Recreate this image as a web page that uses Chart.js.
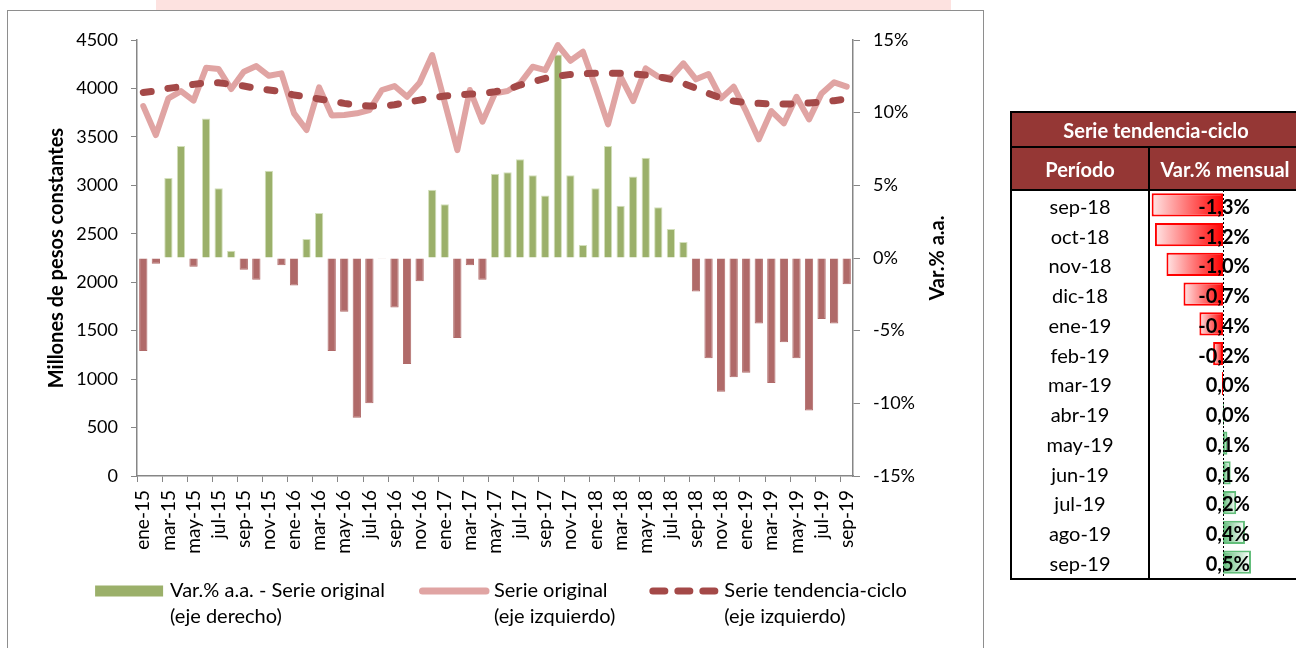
<!DOCTYPE html>
<html lang="es">
<head>
<meta charset="utf-8">
<title>Serie original y tendencia-ciclo</title>
<script src="https://cdn.jsdelivr.net/npm/chart.js@4.4.1/dist/chart.umd.min.js"></script>
<style>
  html, body { margin: 0; padding: 0; background: #fff; }
  body { width: 1296px; height: 648px; overflow: hidden; position: relative; font-family: Lato, "Open Sans", sans-serif; }
  #franja { position: absolute; left: 156px; top: 0; width: 795px; height: 10px; background: #fde2e0; }
  #marco { position: absolute; left: 7px; top: 10px; width: 975px; height: 700px; border: 1.5px solid #8e8e8e; }
  #graf { position: absolute; left: 9px; top: 12px; width: 972px; height: 690px; }
  #barrasBox { position: absolute; left: 1150px; top: 190px; width: 146px; height: 387px; z-index: 0; }
  #tabla { position: absolute; left: 1010px; top: 111px; z-index: 1; border-collapse: collapse; table-layout: fixed; width: 290px; font-size: 20px; color: #000; }
  #tabla th, #tabla td { padding: 0; }
  #tabla th { background: #953735; color: #fff; font-weight: bold; border: 2px solid #000; text-align: center; white-space: nowrap; }
  #tabla tr.tit th { height: 33px; }
  #tabla tr.cab th { height: 41px; }
  #tabla td { height: 29.75px; border-left: 2px solid #000; border-right: 2px solid #000; background: transparent; white-space: nowrap; }
  #tabla td.per { text-align: center; }
  #tabla td.val { text-align: right; padding-right: 50px; font-weight: bold; }
  #tabla tr:last-child td { border-bottom: 2px solid #000; }
</style>
</head>
<body>
<div id="franja"></div>
<div id="marco"></div>
<div id="graf"><canvas id="myChart"></canvas></div>
<div id="barrasBox"><canvas id="barras"></canvas></div>
<table id="tabla">
  <colgroup><col style="width:138px"><col style="width:152px"></colgroup>
  <tr class="tit"><th colspan="2">Serie tendencia-ciclo</th></tr>
  <tr class="cab"><th>Período</th><th>Var.% mensual</th></tr>
</table>
<script>
// Meses (categorias del eje x)
var meses = [
  "ene-15", "feb-15", "mar-15", "abr-15", "may-15", "jun-15", "jul-15", "ago-15", "sep-15", "oct-15", "nov-15", "dic-15",
  "ene-16", "feb-16", "mar-16", "abr-16", "may-16", "jun-16", "jul-16", "ago-16", "sep-16", "oct-16", "nov-16", "dic-16",
  "ene-17", "feb-17", "mar-17", "abr-17", "may-17", "jun-17", "jul-17", "ago-17", "sep-17", "oct-17", "nov-17", "dic-17",
  "ene-18", "feb-18", "mar-18", "abr-18", "may-18", "jun-18", "jul-18", "ago-18", "sep-18", "oct-18", "nov-18", "dic-18",
  "ene-19", "feb-19", "mar-19", "abr-19", "may-19", "jun-19", "jul-19", "ago-19", "sep-19"
];

// Var.% a.a. de la serie original (eje derecho)
var varAA = [
  -6.4, -0.4, 5.5, 7.7, -0.6, 9.6, 4.8, 0.5, -0.8, -1.5, 6.0, -0.5,
  -1.9, 1.3, 3.1, -6.4, -3.7, -11.0, -10.0, -0.05, -3.4, -7.3, -1.6, 4.7,
  3.7, -5.5, -0.5, -1.5, 5.8, 5.9, 6.8, 5.7, 4.3, 14.0, 5.7, 0.9,
  4.8, 7.7, 3.6, 5.6, 6.9, 3.5, 2.0, 1.1, -2.3, -6.9, -9.2, -8.2,
  -7.9, -4.5, -8.6, -5.8, -6.9, -10.5, -4.2, -4.5, -1.8
];

// Serie original, millones de pesos constantes (eje izquierdo)
var serieOriginal = [
  3818, 3519, 3898, 3973, 3874, 4214, 4200, 3994, 4173, 4231, 4131, 4156,
  3743, 3571, 4011, 3722, 3726, 3743, 3777, 3984, 4025, 3914, 4059, 4345,
  3856, 3364, 3984, 3657, 3949, 3973, 4053, 4224, 4190, 4448, 4286, 4379,
  4018, 3630, 4121, 3870, 4207, 4121, 4114, 4259, 4094, 4149, 3898, 4018,
  3760, 3475, 3767, 3640, 3914, 3681, 3949, 4063, 4018
];

// Serie tendencia-ciclo (eje izquierdo)
var serieTendencia = [
  3959, 3973, 4001, 4018, 4042, 4059, 4059, 4042, 4025, 4001, 3984, 3966,
  3932, 3914, 3891, 3870, 3846, 3829, 3818, 3818, 3832, 3856, 3880, 3904,
  3922, 3932, 3942, 3949, 3966, 3990, 4035, 4069, 4104, 4128, 4145, 4152,
  4156, 4156, 4156, 4149, 4138, 4121, 4094, 4053, 4001, 3949, 3898, 3870,
  3853, 3846, 3839, 3839, 3842, 3850, 3860, 3874, 3891
];

// Textos de la leyenda (dos lineas cada uno)
var leyendaTextos = [
  ["Var.% a.a. - Serie original", "(eje derecho)"],
  ["Serie original", "(eje izquierdo)"],
  ["Serie tendencia-ciclo", "(eje izquierdo)"]
];

// Tabla: variacion mensual de la tendencia-ciclo
var tablaPeriodos = ["sep-18", "oct-18", "nov-18", "dic-18", "ene-19", "feb-19", "mar-19",
  "abr-19", "may-19", "jun-19", "jul-19", "ago-19", "sep-19"];
var tablaVarMensual = [-1.30, -1.24, -1.03, -0.72, -0.43, -0.18, -0.02, 0.02, 0.08, 0.14, 0.24, 0.40, 0.51];

var fuente = "Lato";
var gris = "#868686";
var verde = "#9bb06a";
var rojo = "#b06a69";
var rosa = "#e0a4a3";
var granate = "#a44948";

function formatoPct(v) {
  if (Math.abs(v) < 0.05) return "0,0%";
  return v.toFixed(1).replace(".", ",") + "%";
}

// filas de la tabla
var tabla = document.getElementById("tabla");
tablaPeriodos.forEach(function (p, i) {
  var tr = document.createElement("tr");
  var td1 = document.createElement("td");
  td1.className = "per";
  td1.textContent = p;
  var td2 = document.createElement("td");
  td2.className = "val";
  td2.textContent = formatoPct(tablaVarMensual[i]);
  tr.appendChild(td1);
  tr.appendChild(td2);
  tabla.appendChild(tr);
});

// titulo del eje derecho (se lee de abajo hacia arriba)
const tituloDerecho = {
  id: "tituloDerecho",
  afterDraw(chart) {
    const s = chart.scales.y1;
    const c = chart.ctx;
    c.save();
    c.font = "bold 20px " + fuente;
    c.fillStyle = "#000";
    c.textAlign = "center";
    c.textBaseline = "middle";
    c.translate(s.right - 43, (s.top + s.bottom) / 2);
    c.rotate(-Math.PI / 2);
    c.fillText("Var.% a.a.", 0, 0);
    c.restore();
  }
};

// leyenda de dos lineas bajo el grafico
const leyenda = {
  id: "leyenda",
  afterDraw(chart) {
    const c = chart.ctx;
    const area = chart.chartArea;
    const sw = 68, gap = 7, sep = 34, lh = 26;
    c.save();
    c.font = "20px " + fuente;
    const anchos = leyendaTextos.map((t) => sw + gap + Math.max(...t.map((s) => c.measureText(s).width)));
    const total = anchos.reduce((a, b) => a + b, 0) + sep * (anchos.length - 1);
    let x = (area.left + area.right) / 2 + 6 - total / 2;
    const y = area.bottom + 115;
    chart.data.datasets.forEach((ds, i) => {
      if (ds.type === "bar") {
        c.fillStyle = verde;
        c.fillRect(x, y - 5.5, sw, 11);
      } else {
        c.strokeStyle = ds.borderColor;
        c.lineWidth = 7;
        c.lineCap = "round";
        c.setLineDash(ds.borderDash ? [12, 13] : []);
        c.beginPath();
        c.moveTo(x + 3.5, y);
        c.lineTo(x + sw - 1, y);
        c.stroke();
        c.setLineDash([]);
      }
      c.fillStyle = "#000";
      c.textAlign = "left";
      c.textBaseline = "middle";
      leyendaTextos[i].forEach((s, k) => c.fillText(s, x + sw + gap, y + k * lh));
      x += anchos[i] + sep;
    });
    c.restore();
  }
};

const data = {
  labels: meses,
  datasets: [
    {
      type: "bar",
      label: "Var.% a.a. - Serie original",
      data: varAA,
      yAxisID: "y1",
      order: 3,
      backgroundColor: (ctx) => (ctx.raw >= 0 ? verde : rojo),
      borderColor: (ctx) => (ctx.raw >= 0 ? "#d3e0bb" : rojo),
      borderWidth: 1,
      categoryPercentage: 0.66,
      barPercentage: 1,
    },
    {
      type: "line",
      label: "Serie original",
      data: serieOriginal,
      yAxisID: "y",
      order: 2,
      borderColor: rosa,
      borderWidth: 6,
      pointRadius: 0,
      borderJoinStyle: "round",
      borderCapStyle: "round",
      fill: false,
    },
    {
      type: "line",
      label: "Serie tendencia-ciclo",
      data: serieTendencia,
      yAxisID: "y",
      order: 1,
      borderColor: granate,
      borderWidth: 7,
      borderDash: [8, 17],
      borderCapStyle: "round",
      pointRadius: 0,
      fill: false,
    },
  ],
};

const config = {
  data: data,
  plugins: [tituloDerecho, leyenda],
  options: {
    responsive: true,
    maintainAspectRatio: false,
    animation: false,
    events: [],
    layout: { padding: { top: 28, left: 0, right: 0, bottom: 146 } },
    scales: {
      x: {
        type: "category",
        offset: true,
        grid: {
          offset: true,
          drawOnChartArea: false,
          tickLength: 6,
          color: (ctx) => (ctx.index % 2 === 0 ? gris : "rgba(0,0,0,0)"),
        },
        border: { color: gris, width: 1.5 },
        ticks: {
          autoSkip: false,
          maxRotation: 90,
          minRotation: 90,
          padding: 8,
          color: "#000",
          font: { family: fuente, size: 19 },
          callback: (val, i) => (i % 2 === 0 ? meses[i] : ""),
        },
        afterFit: (scale) => { scale.height = 80; },
      },
      y: {
        position: "left",
        min: 0,
        max: 4500,
        grid: { drawOnChartArea: false, tickLength: 6, color: gris },
        border: { color: gris, width: 1.5 },
        ticks: {
          stepSize: 500,
          padding: 13,
          color: "#000",
          font: { family: fuente, size: 18 },
          callback: (v) => String(v),
        },
        title: {
          display: true,
          text: "Millones de pesos constantes",
          color: "#000",
          font: { family: fuente, size: 20, weight: "bold" },
          padding: { top: 36, bottom: 0 },
        },
        afterFit: (scale) => { scale.width = 128; },
      },
      y1: {
        position: "right",
        min: -15,
        max: 15,
        grid: { drawOnChartArea: false, tickLength: 7, color: gris },
        border: { color: gris, width: 1.5 },
        ticks: {
          stepSize: 5,
          padding: 13,
          color: "#000",
          font: { family: fuente, size: 18 },
          callback: (v) => v + "%",
        },
        afterFit: (scale) => { scale.width = 128; },
      },
    },
    plugins: {
      tooltip: { enabled: false },
      legend: { display: false },
    },
  },
};

const myChart = new Chart(document.getElementById("myChart").getContext("2d"), config);

// linea de cero punteada de la tabla
const lineaCero = {
  id: "lineaCero",
  afterDatasetsDraw(chart) {
    const x0 = Math.round(chart.scales.x.getPixelForValue(0)) + 0.5;
    const c = chart.ctx;
    c.save();
    c.strokeStyle = "#000";
    c.lineWidth = 1;
    c.setLineDash([2, 2]);
    c.beginPath();
    c.moveTo(x0, chart.chartArea.top);
    c.lineTo(x0, chart.chartArea.bottom);
    c.stroke();
    c.restore();
  }
};

function degradado(ctx) {
  const chart = ctx.chart;
  const sx = chart.scales.x;
  const v = ctx.raw;
  const plano = v < 0 ? "#ff8080" : "#a8dcb5";
  if (!sx || typeof v !== "number") return plano;
  const x0 = sx.getPixelForValue(0);
  const x1 = sx.getPixelForValue(v);
  if (!isFinite(x0) || !isFinite(x1)) return plano;
  const g = chart.ctx.createLinearGradient(Math.min(x0, x1), 0, Math.max(x0, x1) + 0.01, 0);
  if (v < 0) {
    g.addColorStop(0, "#ffe6e6");
    g.addColorStop(1, "#ff0000");
  } else {
    g.addColorStop(0, "#63be7b");
    g.addColorStop(1, "#ffffff");
  }
  return g;
}

const barras = new Chart(document.getElementById("barras").getContext("2d"), {
  type: "bar",
  data: {
    labels: tablaPeriodos,
    datasets: [
      {
        data: tablaVarMensual,
        backgroundColor: degradado,
        borderColor: (ctx) => (ctx.raw < 0 ? "#ff0000" : "#63be7b"),
        borderWidth: 2,
        borderSkipped: false,
        categoryPercentage: 0.78,
        barPercentage: 1,
      },
    ],
  },
  plugins: [lineaCero],
  options: {
    indexAxis: "y",
    responsive: true,
    maintainAspectRatio: false,
    animation: false,
    events: [],
    layout: { padding: 0 },
    scales: {
      x: { min: -1.33, max: 1.33, display: false },
      y: { display: false },
    },
    plugins: { legend: { display: false }, tooltip: { enabled: false } },
  },
});
</script>
</body>
</html>
